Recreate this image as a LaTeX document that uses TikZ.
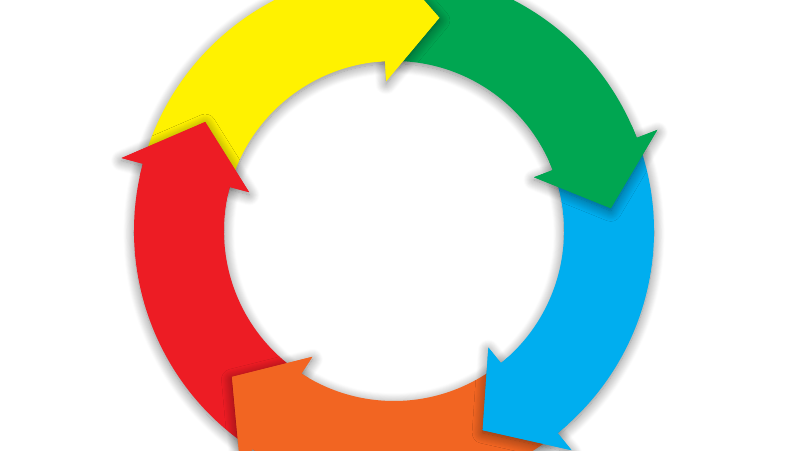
\documentclass[tikz,border=0pt]{standalone}
\usetikzlibrary{shadows.blur}
\definecolor{cycyellow}{RGB}{255,242,0}
\definecolor{cycgreen}{RGB}{0,166,81}
\definecolor{cycblue}{RGB}{0,174,239}
\definecolor{cycorange}{RGB}{242,101,34}
\definecolor{cycred}{RGB}{237,28,36}
\begin{document}
\begin{tikzpicture}[
    soft/.style={blur shadow={shadow xshift=0pt, shadow yshift=-1.5pt,
      shadow blur radius=6pt, shadow opacity=50, shadow blur steps=12}}]
    \useasboundingbox (-7.88,-4.38) rectangle (8.12,4.62);
    \clip (-7.88,-4.38) rectangle (8.12,4.62);
    \foreach \tip/\col in {150/cycred, -138/cycorange, -66/cycblue, 6/cycgreen, 78/cycyellow}
      \fill[soft, \col] ({\tip+84}:5.2) arc[start angle=\tip+84, end angle=\tip+15, radius=5.2]
        -- ({\tip+15}:3.4) arc[start angle=\tip+15, end angle=\tip+84, radius=3.4] -- cycle;
    \foreach \tip/\col in {150/cycred, -138/cycorange, -66/cycblue, 6/cycgreen, 78/cycyellow}{
      \begin{scope}
        \clip (-9,-6) -- (9,-6) -- (9,6) -- (-9,6) -- cycle
          ({\tip+84}:5.2) arc[start angle=\tip+84, end angle=\tip+16, radius=5.2]
          -- ({\tip+16}:3.4) arc[start angle=\tip+16, end angle=\tip+84, radius=3.4] -- cycle;
        \fill[soft, \col] ({\tip+15}:3.0) -- ({\tip+15}:5.64) -- (\tip:4.36) -- cycle;
      \end{scope}
      \fill[\col] ({\tip+18}:5.2) arc[start angle=\tip+18, end angle=\tip+15, radius=5.2]
        -- ({\tip+15}:5.64) -- (\tip:4.36) -- ({\tip+15}:3.0) -- ({\tip+15}:3.4)
        arc[start angle=\tip+15, end angle=\tip+18, radius=3.4] -- cycle;
    }
\end{tikzpicture}
\end{document}
